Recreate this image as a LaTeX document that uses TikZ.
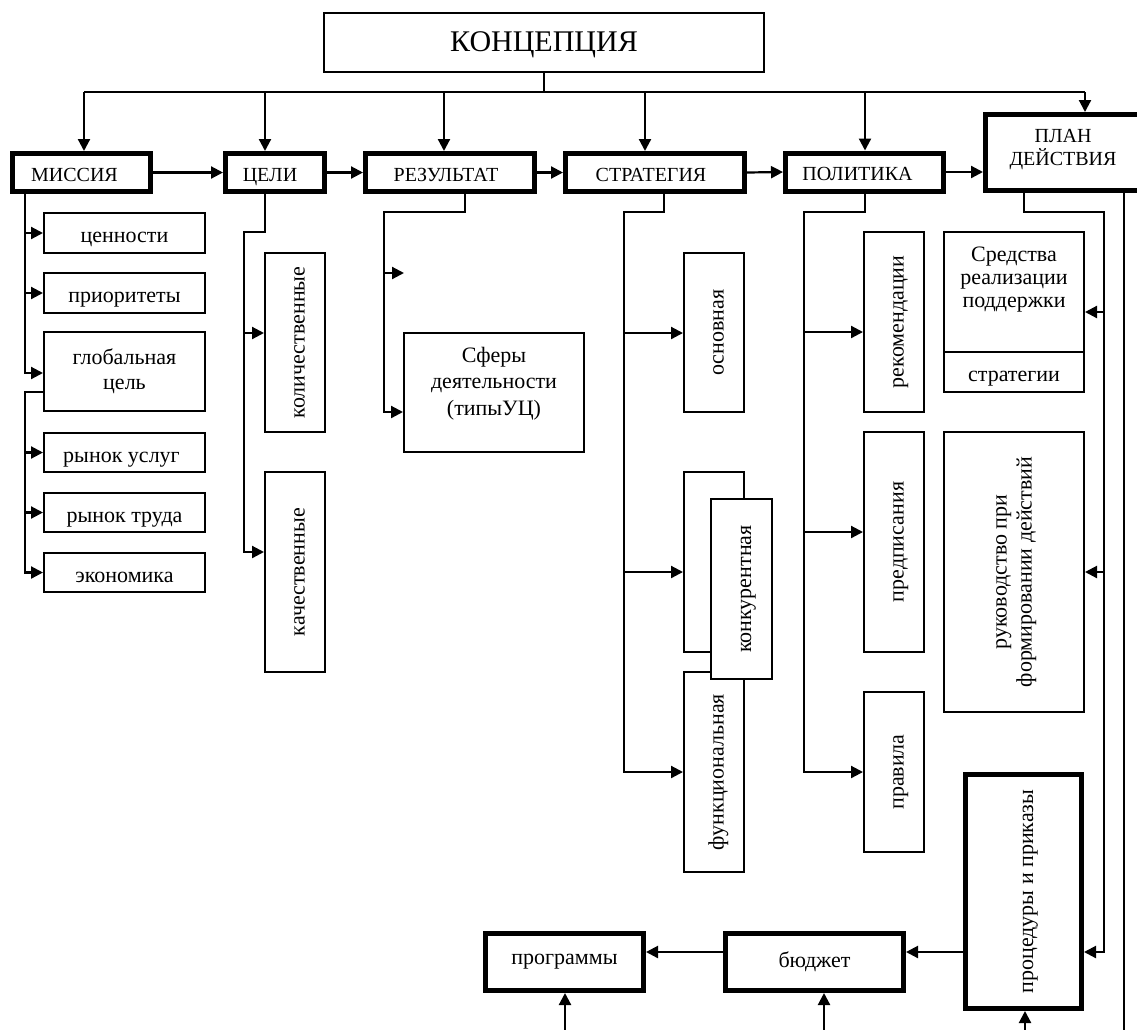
\documentclass[tikz,border=0pt]{standalone}
\usepackage{fontspec}
\setmainfont{Liberation Serif}
\usepackage{graphicx}
\usetikzlibrary{arrows.meta,calc}
\newcommand{\myvert}[1]{\rotatebox{90}{\raisebox{0pt}[19pt][0pt]{#1}}}
\begin{document}
\begin{tikzpicture}[x=1pt,y=-1pt,
  every node/.style={font=\fontsize{22}{25}\selectfont, inner sep=0pt},
  tbox/.style={draw, line width=2pt, fill=white},
  bbox/.style={draw, line width=5pt, fill=white, font=\fontsize{20}{23}\selectfont},
  lo/.style={text height=19.4pt, text depth=0pt},
  up/.style={text height=17.2pt, text depth=0pt},
  lnk/.style={line width=2.2pt},
  arr/.style={line width=2.2pt, -{Triangle[length=12pt,width=12pt]}},
  sz/.style 2 args={minimum width=#1pt, minimum height=#2pt},
]
\fill[white] (0,0) rectangle (1137,1029);
\useasboundingbox (0,0) rectangle (1137,1029);

% ---------- top row ----------
\node[tbox, sz={440}{59}, font=\fontsize{30}{34}\selectfont, text height=17pt, text depth=0pt] (konc) at (544,42.5) {КОНЦЕПЦИЯ};
\node[bbox, up, sz={138}{38}] (missia) at (81.5,172.5) {МИССИЯ\kern14pt};
\node[bbox, up, sz={99}{38}] (celi) at (275,172.5) {ЦЕЛИ\kern10pt};
\node[bbox, up, sz={169}{38}] (rez) at (450,172.5) {РЕЗУЛЬТАТ\kern8pt};
\node[bbox, up, sz={179}{38}] (strat) at (655,172.5) {СТРАТЕГИЯ\kern8pt};
\node[bbox, up, sz={158}{38}] (polit) at (864.5,172) {ПОЛИТИКА\kern14pt};
\node[bbox, sz={155}{76}] (plan) at (1063,152.5) {};
\node[align=center, font=\fontsize{20}{23}\selectfont] (planT) at (1063,150) {ПЛАН\\ДЕЙСТВИЯ};

% ---------- mission column ----------
\node[tbox, lo, sz={161}{40}] (cen) at (124.5,233) {ценности};
\node[tbox, lo, sz={161}{40}] (pri) at (124.5,293) {приоритеты};
\node[tbox, sz={161}{79}, align=center] (glob) at (124.5,371) {глобальная\\цель};
\node[tbox, lo, sz={161}{39}] (ru) at (124.5,452.5) {рынок услуг\kern6pt};
\node[tbox, lo, sz={161}{39}] (rt) at (124.5,512.5) {рынок труда};
\node[tbox, lo, sz={161}{39}] (eko) at (124.5,572.5) {экономика};

% ---------- goals column ----------
\node[tbox, sz={60}{179}] (kol) at (295,342.5) {\myvert{количественные}};
\node[tbox, sz={60}{200}] (kach) at (295,572) {\myvert{качественные}};

% ---------- result column ----------
\node[tbox, sz={180}{119}] (sfery) at (494,392.5) {};
\node[align=center, font=\fontsize{22}{26.5}\selectfont] (sferyT) at (494,383.5) {Сферы\\деятельности\\(типыУЦ)};

% ---------- strategy column ----------
\node[tbox, sz={60}{159}] (osn) at (714,332.5) {\myvert{основная}};
\node[tbox, sz={60}{180}] (konkB) at (714,562) {};
\node[tbox, sz={60}{200}] (fun) at (714,772) {\myvert{функциональная}};
\node[tbox, sz={61}{180}] (konk) at (741.5,589) {\myvert{конкурентная}};

% ---------- policy column ----------
\node[tbox, sz={60}{180}] (rek) at (894,322) {\myvert{рекомендации}};
\node[tbox, sz={60}{220}] (pred) at (894,542) {\myvert{предписания}};
\node[tbox, sz={60}{160}] (prav) at (894,772) {\myvert{правила}};

% ---------- plan column ----------
\node[tbox, sz={140}{120}] (sred) at (1014,292) {};
\node[align=center, font=\fontsize{22}{23}\selectfont] (sredT) at (1014,280) {Средства\\реализации\\поддержки};
\node[tbox, lo, sz={140}{40}] (strg) at (1014,372) {стратегии};
\node[tbox, sz={140}{280}] (ruk) at (1014,572) {\rotatebox{90}{\begin{tabular}{@{}c@{}}руководство при\\формировании действий\end{tabular}}};
\node[bbox, sz={116}{234}, font=\fontsize{22}{25}\selectfont] (proc) at (1023.5,891.5) {\myvert{процедуры и приказы}};
\node[bbox, sz={158}{57}, font=\fontsize{22}{25}\selectfont] (prog) at (564.5,962) {программы};
\node[bbox, sz={178}{57}, font=\fontsize{22}{25}\selectfont] (bud) at (814.5,962) {бюджет};

% ---------- top bus ----------
\coordinate (bL) at (84,92);
\coordinate (bR) at (1085,92);
\draw[lnk] (konc.south) -- (konc.south |- bL);
\draw[lnk] (bL) -- (bR);
\draw[arr] (bL) -- (bL |- missia.north);
\draw[arr] (265,92) -- (265,92 |- celi.north);
\draw[arr] (444,92) -- (444,92 |- rez.north);
\draw[arr] (645,92) -- (645,92 |- strat.north);
\draw[arr] (865,92) -- (865,92 |- polit.north);
\draw[arr] (bR) -- (bR |- plan.north);

% ---------- chain ----------
\draw[arr] (missia.east) -- (celi.west);
\draw[arr] (celi.east) -- (rez.west);
\draw[arr] (rez.east) -- (strat.west);
\draw[arr] (strat.east) -- (polit.west);
\draw[arr] (polit.east) -- (polit.east -| plan.west);

% ---------- mission branches ----------
\coordinate (m1) at (25,0 |- missia.south);
\draw[arr] (m1) |- (glob.west |- 0,373);
\draw[arr] (25,0 |- cen.west) -- (cen.west);
\draw[arr] (25,0 |- pri.west) -- (pri.west);
\coordinate (g1) at (glob.west |- 0,392);
\draw[arr] (g1) -- (25,0 |- g1) |- (eko.west);
\draw[arr] (25,0 |- ru.west) -- (ru.west);
\draw[arr] (25,0 |- rt.west) -- (rt.west);

% ---------- goals branches ----------
\coordinate (c1) at ($(celi.south)+(-10,0)$);
\draw[arr] (c1) |- (244,232) |- (kach.west |- 0,552);
\draw[arr] (244,333) -- (kol.west |- 0,333);

% ---------- result branches ----------
\coordinate (r1) at ($(rez.south)+(15,0)$);
\draw[arr] (r1) |- (384,212) |- (sfery.west |- 0,412);
\coordinate (rfree) at (404,273);
\draw[arr] (384,273) -- (rfree);

% ---------- strategy branches ----------
\coordinate (s1) at ($(strat.south)+(9,0)$);
\draw[arr] (s1) |- (624,212) |- (fun.west |- 0,772);
\draw[arr] (624,333) -- (osn.west |- 0,333);
\draw[arr] (624,572) -- (konkB.west |- 0,572);

% ---------- policy branches ----------
\coordinate (p1) at ($(polit.south)+(0.5,0)$);
\draw[arr] (p1) |- (804,212) |- (prav.west |- 0,772);
\draw[arr] (804,332) -- (rek.west |- 0,332);
\draw[arr] (804,532) -- (pred.west |- 0,532);

% ---------- plan branches ----------
\coordinate (q1) at ($(plan.south)+(-39,0)$);
\draw[arr] (q1) |- (1104,212) |- (proc.east |- 0,952);
\draw[arr] (1104,312) -- (sred.east |- 0,312);
\draw[arr] (1104,572) -- (ruk.east |- 0,572);
\coordinate (q2) at ($(plan.south)+(61,0)$);
\coordinate (q2end) at (1124,1040);
\draw[lnk] (q2) -- (q2end);

% ---------- bottom ----------
\draw[arr] (proc.west |- 0,952) -- (bud.east |- 0,952);
\draw[arr] (bud.west |- 0,952) -- (prog.east |- 0,952);
\coordinate (u1) at (565,1040);
\coordinate (u2) at (824,1040);
\coordinate (u3) at (1025,1040);
\draw[arr] (u1) -- (u1 |- prog.south);
\draw[arr] (u2) -- (u2 |- bud.south);
\draw[arr] (u3) -- (u3 |- proc.south);
\end{tikzpicture}
\end{document}
